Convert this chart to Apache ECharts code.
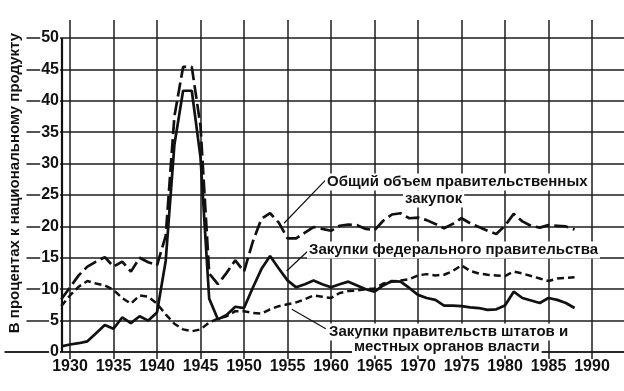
<!DOCTYPE html>
<html><head><meta charset="utf-8">
<script src="https://cdn.jsdelivr.net/npm/echarts@6/dist/echarts.min.js"></script>
<style>html,body{margin:0;padding:0;background:#fff}#c{width:624px;height:391px}</style>
</head><body><div id="c"></div><script>
// ---- data (percent of national product) ----
const years = [1929,1930,1931,1932,1933,1934,1935,1936,1937,1938,1939,1940,1941,1942,1943,1944,1945,1946,1947,1948,1949,1950,1951,1952,1953,1954,1955,1956,1957,1958,1959,1960,1961,1962,1963,1964,1965,1966,1967,1968,1969,1970,1971,1972,1973,1974,1975,1976,1977,1978,1979,1980,1981,1982,1983,1984,1985,1986,1987,1988];
const totalPurchases = [8.4,10.3,12.2,13.6,14.4,15.1,13.6,14.4,12.8,15.0,14.3,13.8,18.5,37.5,45.4,45.4,36.0,12.5,10.8,12.6,14.6,12.8,17.5,21.2,22.1,20.6,18.1,18.1,19.0,19.9,19.6,19.3,20.1,20.3,20.2,19.6,19.4,20.9,21.9,22.1,21.3,21.4,21.0,20.4,19.7,20.4,21.3,20.5,19.9,19.3,18.8,20.1,22.0,20.8,20.1,19.8,20.2,20.1,20.0,19.5];
const federalPurchases = [0.9,1.2,1.4,1.7,3.0,4.3,3.7,5.5,4.6,5.7,5.0,6.3,14.5,33.0,41.6,41.6,31.0,8.5,5.2,5.9,7.2,7.0,10.2,13.2,15.3,13.3,11.4,10.3,10.8,11.4,10.8,10.3,10.8,11.2,10.6,10.0,9.6,10.6,11.3,11.2,10.2,9.1,8.6,8.3,7.4,7.4,7.3,7.1,7.0,6.7,6.8,7.4,9.6,8.6,8.2,7.8,8.6,8.3,7.8,7.0];
const stateLocalPurchases = [7.3,9.0,10.4,11.3,10.9,10.6,9.9,8.6,7.7,9.0,8.8,7.7,6.0,4.5,3.6,3.3,3.6,4.7,5.3,5.7,6.5,6.5,6.2,6.1,6.8,7.3,7.6,7.9,8.4,9.0,8.8,8.6,9.4,9.7,9.8,10.0,10.1,10.9,11.2,11.4,11.6,12.2,12.4,12.2,12.3,12.9,13.8,12.9,12.5,12.3,12.2,12.1,12.8,12.5,12.1,11.7,11.3,11.7,11.8,11.9];
const xTickLabels = [1930,1935,1940,1945,1950,1955,1960,1965,1970,1975,1980,1985,1990];
const yTickLabels = [0,5,10,15,20,25,30,35,40,45,50];
const axisStartYear = 1929;
const yAxisTitle = 'В процентах к национальному продукту';
const labelTotal1 = 'Общий объем правительственных';
const labelTotal2 = 'закупок';
const labelFederal = 'Закупки федерального правительства';
const labelState1 = 'Закупки правительств штатов и';
const labelState2 = 'местных органов власти';

const FONT = '"Liberation Sans", Arial, sans-serif';
const INK = '#111';
const GRID = '#1c1c1c';
const XMIN = 1922.53, XMAX = 1993.68, YMAX = 52.87;

const pairs = arr => years.map((y, i) => [y, arr[i]]);

const chart = echarts.init(document.getElementById('c'), null, {renderer: 'canvas'});
const option = {
  animation: false,
  backgroundColor: '#fff',
  grid: {left: 5, right: 0, top: 20, bottom: 39, outerBoundsMode: 'none'},
  xAxis: [{
    type: 'value', min: XMIN, max: XMAX, position: 'bottom',
    axisLine: {show: true, onZero: false, lineStyle: {color: GRID, width: 1.6}},
    axisTick: {show: false, customValues: xTickLabels},
    axisLabel: {customValues: xTickLabels, margin: 7, fontSize: 16, fontWeight: 'bold', fontFamily: FONT, color: INK,
      formatter: v => String(Math.round(v))},
    splitLine: {show: true, lineStyle: {color: GRID, width: 1.5}}
  }, {
    type: 'value', min: XMIN, max: XMAX, position: 'bottom', offset: 22,
    axisLine: {show: false},
    axisTick: {show: true, customValues: xTickLabels, length: 7, lineStyle: {color: GRID, width: 1.5}},
    axisLabel: {show: false},
    splitLine: {show: false}
  }],
  yAxis: {
    type: 'value', min: 0, max: YMAX, offset: -57,
    axisLine: {show: false},
    axisTick: {show: false, customValues: yTickLabels},
    axisLabel: {customValues: yTickLabels, margin: 2, fontSize: 16, fontWeight: 'bold', fontFamily: FONT, color: INK,
      backgroundColor: '#fff', padding: [0, 1], formatter: v => String(Math.round(v))},
    splitLine: {show: true, lineStyle: {color: GRID, width: 1.5}}
  },
  series: [{
    name: 'total', type: 'line', data: pairs(totalPurchases), symbol: 'none', z: 3,
    lineStyle: {color: INK, width: 2.7, type: [14, 5]},
    markLine: {
      silent: true, symbol: 'none', label: {show: false}, animation: false,
      lineStyle: {type: 'solid', color: INK, width: 1.2},
      data: [
        [{coord: [1954.6, 20.5]}, {coord: [1959.4, 27.4]}],
        [{coord: [1954.9, 12.9]}, {coord: [1957.9, 16.8]}],
        [{coord: [1955.5, 6.8]}, {coord: [1959.4, 3.7]}]
      ]
    }
  }, {
    name: 'federal', type: 'line', data: pairs(federalPurchases), symbol: 'none', z: 4,
    lineStyle: {color: INK, width: 2.7, type: 'solid'},
    markLine: {
      silent: true, symbol: 'none', label: {show: false}, animation: false,
      lineStyle: {type: 'solid', color: INK, width: 2.2},
      data: [[{coord: [axisStartYear, 0]}, {coord: [axisStartYear, 50]}]]
    }
  }, {
    name: 'state', type: 'line', data: pairs(stateLocalPurchases), symbol: 'none', z: 3,
    lineStyle: {color: INK, width: 2.5, type: [7, 4]}
  }],
  graphic: [
    {type: 'text', x: 15, y: 183, rotation: Math.PI / 2, z: 10,
      style: {text: yAxisTitle, font: 'bold 15px ' + FONT, fill: INK, align: 'center', verticalAlign: 'middle',
        backgroundColor: '#fff', padding: [4, 2]}},
    {type: 'text', x: 325, y: 182, z: 10,
      style: {text: labelTotal1, font: 'bold 15px ' + FONT, fill: INK, align: 'left', verticalAlign: 'middle', backgroundColor: '#fff', padding: [1, 2]}},
    {type: 'text', x: 403, y: 199, z: 10,
      style: {text: labelTotal2, font: 'bold 15px ' + FONT, fill: INK, align: 'left', verticalAlign: 'middle', backgroundColor: '#fff', padding: [1, 2]}},
    {type: 'text', x: 307, y: 250, z: 10,
      style: {text: labelFederal, font: 'bold 15px ' + FONT, fill: INK, align: 'left', verticalAlign: 'middle', backgroundColor: '#fff', padding: [1, 2]}},
    {type: 'text', x: 327, y: 332, z: 10,
      style: {text: labelState1, font: 'bold 15px ' + FONT, fill: INK, align: 'left', verticalAlign: 'middle', backgroundColor: '#fff', padding: [1, 2]}},
    {type: 'text', x: 352, y: 347, z: 10,
      style: {text: labelState2, font: 'bold 15px ' + FONT, fill: INK, align: 'left', verticalAlign: 'middle', backgroundColor: '#fff', padding: [1, 2]}}
  ]
};
chart.setOption(option);
</script></body></html>
